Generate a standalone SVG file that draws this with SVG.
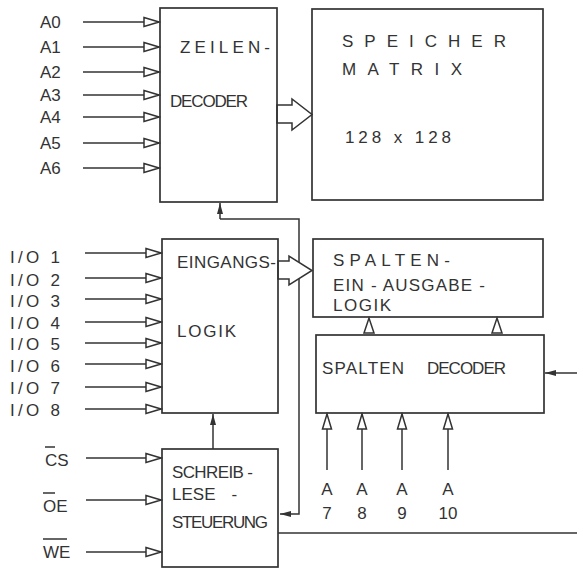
<svg xmlns="http://www.w3.org/2000/svg" width="577" height="568" viewBox="0 0 577 568">
<style>
.box{fill:none;stroke:#333;stroke-width:1.7}
.ln{fill:none;stroke:#333;stroke-width:1.5}
.hol{fill:#fff;stroke:#333;stroke-width:1.5;stroke-linejoin:miter}
text{font-family:"Liberation Sans",Arial,sans-serif;font-size:17px;fill:#333}
.m{text-anchor:middle}
</style>
<defs>
<marker id="ho" markerUnits="userSpaceOnUse" markerWidth="18" markerHeight="12" viewBox="-1 -1 18 12" refX="15" refY="5" orient="auto">
<path d="M0,0.5 L15,5 L0,9.5 Z" fill="#fff" stroke="#333" stroke-width="1.5"/>
</marker>
<marker id="fi" markerUnits="userSpaceOnUse" markerWidth="12" markerHeight="8" viewBox="0 0 12 8" refX="11" refY="4" orient="auto">
<path d="M0,1 L11,4 L0,7 Z" fill="#333"/>
</marker>
</defs>
<rect width="577" height="568" fill="#fff"/>

<g id="connectors">
<line class="ln" x1="83" y1="22" x2="159" y2="22" marker-end="url(#ho)"/>
<line class="ln" x1="83" y1="47" x2="159" y2="47" marker-end="url(#ho)"/>
<line class="ln" x1="83" y1="72" x2="159" y2="72" marker-end="url(#ho)"/>
<line class="ln" x1="83" y1="95" x2="159" y2="95" marker-end="url(#ho)"/>
<line class="ln" x1="83" y1="117" x2="159" y2="117" marker-end="url(#ho)"/>
<line class="ln" x1="83" y1="143" x2="159" y2="143" marker-end="url(#ho)"/>
<line class="ln" x1="83" y1="168" x2="159" y2="168" marker-end="url(#ho)"/>

<line class="ln" x1="85" y1="253" x2="161" y2="253" marker-end="url(#ho)"/>
<line class="ln" x1="85" y1="278" x2="161" y2="278" marker-end="url(#ho)"/>
<line class="ln" x1="85" y1="299" x2="161" y2="299" marker-end="url(#ho)"/>
<line class="ln" x1="85" y1="322" x2="161" y2="322" marker-end="url(#ho)"/>
<line class="ln" x1="85" y1="343" x2="161" y2="343" marker-end="url(#ho)"/>
<line class="ln" x1="85" y1="364" x2="161" y2="364" marker-end="url(#ho)"/>
<line class="ln" x1="85" y1="387" x2="161" y2="387" marker-end="url(#ho)"/>
<line class="ln" x1="85" y1="409" x2="161" y2="409" marker-end="url(#ho)"/>

<line class="ln" x1="86" y1="458" x2="161" y2="458" marker-end="url(#ho)"/>
<line class="ln" x1="86" y1="500" x2="161" y2="500" marker-end="url(#ho)"/>
<line class="ln" x1="86" y1="552" x2="161" y2="552" marker-end="url(#ho)"/>

<line class="ln" x1="327" y1="470" x2="327" y2="414" marker-end="url(#ho)"/>
<line class="ln" x1="362" y1="470" x2="362" y2="414" marker-end="url(#ho)"/>
<line class="ln" x1="402" y1="470" x2="402" y2="414" marker-end="url(#ho)"/>
<line class="ln" x1="448" y1="470" x2="448" y2="414" marker-end="url(#ho)"/>

<polygon class="hol" points="364,333 369,318 374,333"/>
<polygon class="hol" points="492,333 497,318 502,333"/>

<path class="ln" d="M220,219 H299 V514 H280" marker-end="url(#fi)"/>
<line class="ln" x1="220" y1="219" x2="220" y2="203" marker-end="url(#fi)"/>
<line class="ln" x1="213" y1="449" x2="213" y2="414" marker-end="url(#fi)"/>
<line class="ln" x1="577" y1="373" x2="545" y2="373" marker-end="url(#fi)"/>
<line class="ln" x1="278" y1="533" x2="577" y2="533"/>

<polygon class="hol" points="277,105 292,105 292,99 312,114.5 292,130 292,123 277,123"/>
<polygon class="hol" points="278,261 289,261 289,256 312,270.5 289,285 289,279 278,279"/>
</g>

<g id="labels">
<text x="40" y="28">A0</text>
<text x="40" y="53">A1</text>
<text x="40" y="78">A2</text>
<text x="40" y="101">A3</text>
<text x="40" y="123">A4</text>
<text x="40" y="149">A5</text>
<text x="40" y="174">A6</text>

<text x="10" y="263" textLength="50" lengthAdjust="spacing">I/O 1</text>
<text x="10" y="286" textLength="50" lengthAdjust="spacing">I/O 2</text>
<text x="10" y="307" textLength="50" lengthAdjust="spacing">I/O 3</text>
<text x="10" y="329" textLength="50" lengthAdjust="spacing">I/O 4</text>
<text x="10" y="350" textLength="50" lengthAdjust="spacing">I/O 5</text>
<text x="10" y="372" textLength="50" lengthAdjust="spacing">I/O 6</text>
<text x="10" y="394" textLength="50" lengthAdjust="spacing">I/O 7</text>
<text x="10" y="416" textLength="50" lengthAdjust="spacing">I/O 8</text>

<text x="45" y="466">CS</text>
<line class="ln" x1="45" y1="447" x2="55" y2="447"/>
<text x="43" y="512">OE</text>
<line class="ln" x1="43" y1="493" x2="55" y2="493"/>
<text x="43" y="558">WE</text>
<line class="ln" x1="43" y1="539" x2="67" y2="539"/>

<text class="m" x="327" y="495">A</text>
<text class="m" x="362" y="495">A</text>
<text class="m" x="402" y="495">A</text>
<text class="m" x="448" y="495">A</text>
<text class="m" x="327" y="519">7</text>
<text class="m" x="362" y="519">8</text>
<text class="m" x="402" y="519">9</text>
<text class="m" x="448" y="519">10</text>
</g>

<g id="zeilen-decoder">
<rect class="box" x="160" y="8" width="117" height="194"/>
<text x="180" y="53" textLength="90" lengthAdjust="spacing">ZEILEN-</text>
<text x="170" y="107" textLength="78" lengthAdjust="spacing">DECODER</text>
</g>

<g id="speicher-matrix">
<rect class="box" x="312" y="9" width="231" height="191"/>
<text x="342" y="47" textLength="164" lengthAdjust="spacing">SPEICHER</text>
<text x="342" y="75" textLength="120" lengthAdjust="spacing">MATRIX</text>
<text x="345" y="143" textLength="106" lengthAdjust="spacing">128 x 128</text>
</g>

<g id="eingangs-logik">
<rect class="box" x="162" y="239" width="116" height="174"/>
<text x="177" y="268" textLength="99" lengthAdjust="spacing">EINGANGS-</text>
<text x="177" y="337" textLength="59" lengthAdjust="spacing">LOGIK</text>
</g>

<g id="spalten-ea-logik">
<rect class="box" x="313" y="239" width="230" height="78"/>
<text x="333" y="266" textLength="117" lengthAdjust="spacing">SPALTEN-</text>
<text x="333" y="291" textLength="152" lengthAdjust="spacing">EIN - AUSGABE -</text>
<text x="333" y="311" textLength="58" lengthAdjust="spacing">LOGIK</text>
</g>

<g id="spalten-decoder">
<rect class="box" x="316" y="335" width="228" height="78"/>
<text x="322" y="374" textLength="82" lengthAdjust="spacing">SPALTEN</text>
<text x="427" y="374" textLength="79" lengthAdjust="spacing">DECODER</text>
</g>

<g id="schreib-lese-steuerung">
<rect class="box" x="162" y="449" width="116" height="118"/>
<text x="172" y="478" textLength="81" lengthAdjust="spacing">SCHREIB -</text>
<text x="172" y="500">LESE<tspan dx="16">-</tspan></text>
<text x="172" y="528" textLength="96" lengthAdjust="spacing">STEUERUNG</text>
</g>
</svg>
